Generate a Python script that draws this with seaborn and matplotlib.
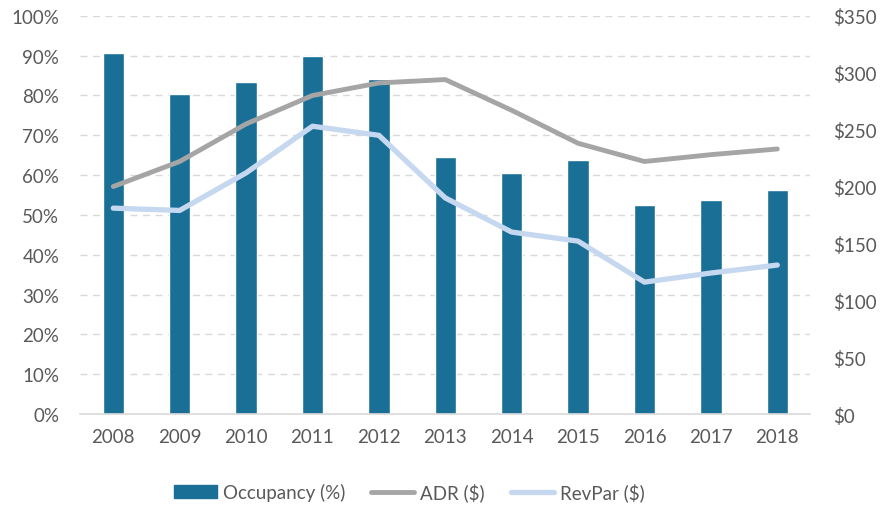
import pandas as pd
import matplotlib.pyplot as plt
import matplotlib.ticker as mtick
from matplotlib.lines import Line2D
from matplotlib.patches import Patch
import seaborn as sns

# Data
years = ['2008', '2009', '2010', '2011', '2012', '2013', '2014', '2015', '2016', '2017', '2018']
occupancy = [90.6, 80.4, 83.5, 89.9, 84.1, 64.6, 60.5, 63.8, 52.5, 53.7, 56.3]
adr = [200, 222, 255, 280, 291, 294, 267, 238, 222, 228, 233]
revpar = [181, 179, 212, 253, 245, 190, 160, 152, 116, 124, 131]

df = pd.DataFrame({'Year': years, 'Occupancy': occupancy, 'ADR': adr, 'RevPar': revpar})

sns.set_style("white")
plt.rcParams['font.family'] = ['Lato', 'DejaVu Sans']

bar_color = '#1a6f96'
adr_color = '#a5a5a5'
rev_color = '#c6d8f0'
text_color = '#595959'
grid_color = '#d9d9d9'

fig = plt.figure(figsize=(8.8, 5.1), dpi=100)
ax = fig.add_axes([0.091, 0.186, 0.83, 0.781])

sns.barplot(data=df, x='Year', y='Occupancy', color=bar_color, width=0.32,
            saturation=1, ax=ax, zorder=2)
ax.set_ylim(0, 100)
ax.set_yticks(range(0, 101, 10))
ax.yaxis.set_major_formatter(mtick.PercentFormatter(decimals=0))
ax.set_xlim(-0.5, len(years) - 0.5)
ax.set_xlabel('')
ax.set_ylabel('')
ax.grid(axis='y', color=grid_color, linestyle=(0, (5, 4)), linewidth=1, zorder=0)
ax.set_axisbelow(True)
for s in ['top', 'right', 'left']:
    ax.spines[s].set_visible(False)
ax.spines['bottom'].set_color(grid_color)
ax.spines['bottom'].set_linewidth(1.2)
ax.tick_params(axis='both', length=0, labelsize=13.5, labelcolor=text_color)
ax.tick_params(axis='y', pad=15)
ax.tick_params(axis='x', pad=10)

ax2 = ax.twinx()
x_pos = list(range(len(years)))
sns.lineplot(x=x_pos, y=df['ADR'], color=adr_color, linewidth=3.5, ax=ax2,
             solid_capstyle='round', solid_joinstyle='round')
sns.lineplot(x=x_pos, y=df['RevPar'], color=rev_color, linewidth=3.8, ax=ax2,
             solid_capstyle='round', solid_joinstyle='round')
ax2.set_ylim(0, 350)
ax2.set_yticks(range(0, 351, 50))
ax2.yaxis.set_major_formatter(mtick.StrMethodFormatter('${x:,.0f}'))
ax2.set_ylabel('')
for s in ['top', 'right', 'left', 'bottom']:
    ax2.spines[s].set_visible(False)
ax2.tick_params(axis='y', length=0, labelsize=13.5, labelcolor=text_color, pad=16)

handles = [Patch(color=bar_color),
           Line2D([0], [0], color=adr_color, linewidth=3.5, solid_capstyle='round'),
           Line2D([0], [0], color=rev_color, linewidth=3.8, solid_capstyle='round')]
labels = ['Occupancy (%)', 'ADR ($)', 'RevPar ($)']
leg = fig.legend(handles, labels, loc='lower center', bbox_to_anchor=(0.465, -0.018), ncol=3,
                 frameon=False, fontsize=13.5, handlelength=2.3, handleheight=0.65,
                 columnspacing=1.4, handletextpad=0.3)
for t in leg.get_texts():
    t.set_color(text_color)

fig.savefig('out.png', dpi=100)
